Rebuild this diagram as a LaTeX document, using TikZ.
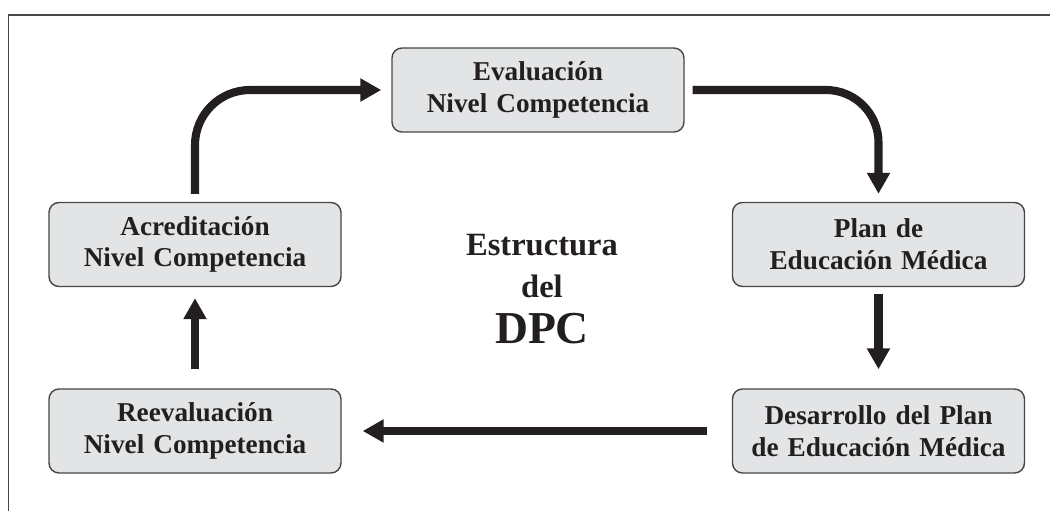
\documentclass[tikz,border=0pt]{standalone}
\usepackage{fontspec}
\setmainfont{Liberation Serif}
\usepackage{xcolor}
\usepackage{tikz}
\usetikzlibrary{arrows.meta, shapes.geometric}
\definecolor{boxfill}{RGB}{227, 228, 230}
\definecolor{boxline}{RGB}{70, 70, 70}
\definecolor{ink}{RGB}{35, 31, 32}
\tikzstyle{stage} = [rectangle, rounded corners=0.2cm, minimum width=5.84cm, minimum height=1.68cm, text width=5.5cm, text centered, draw=boxline, line width=0.8pt, fill=boxfill, text=ink, font=\bfseries\fontsize{15.5}{18}\selectfont]
\tikzstyle{arrow} = [draw=ink, line width=4.6pt, -{Triangle[length=0.42cm, width=0.44cm]}]
\tikzstyle{frame} = [draw=boxline, line width=0.8pt]

\begin{document}
\begin{tikzpicture}[node distance=2cm]
	\useasboundingbox (0,0) rectangle (21,-10.22);
	\clip (0,0) rectangle (21,-10.22);
	\draw [frame] (0.17,-0.30) rectangle (21.6,-10.8);
	
	% Nodes
	\node (accredit) [stage] at (3.90,-4.89) {Acreditación\\Nivel Competencia};
	\node (reeval) [stage, below of=accredit, yshift=-1.73cm] {Reevaluación\\Nivel Competencia};
	\node (plan) [stage, right of=accredit, xshift=11.67cm] {Plan de\\Educación Médica};
	\node (develop) [stage, below of=plan, yshift=-1.73cm] {Desarrollo del Plan\\de Educación Médica};
	\node (eval) [stage] at (10.76,-1.80) {Evaluación\\Nivel Competencia};
	\node (title) [align=center, text=ink, font=\bfseries\fontsize{18.5}{24}\selectfont] at (10.84,-5.78) {Estructura\\del\\[2pt]{\fontsize{26}{28}\selectfont DPC}};
	
	% Arrows
	\draw [arrow, rounded corners=1.1cm, shorten <=0.16cm, shorten >=0.2cm] (accredit) |- (eval);
	\draw [arrow, rounded corners=1.05cm, shorten <=0.16cm, shorten >=0.16cm] (eval) -| (plan);
	\draw [arrow, shorten <=0.14cm, shorten >=0.38cm] (plan) -- (develop);
	\draw [arrow, shorten <=0.5cm, shorten >=0.42cm] (develop) -- (reeval);
	\draw [arrow, shorten <=0.38cm, shorten >=0.22cm] (reeval) -- (accredit);
	
\end{tikzpicture}
\end{document}
